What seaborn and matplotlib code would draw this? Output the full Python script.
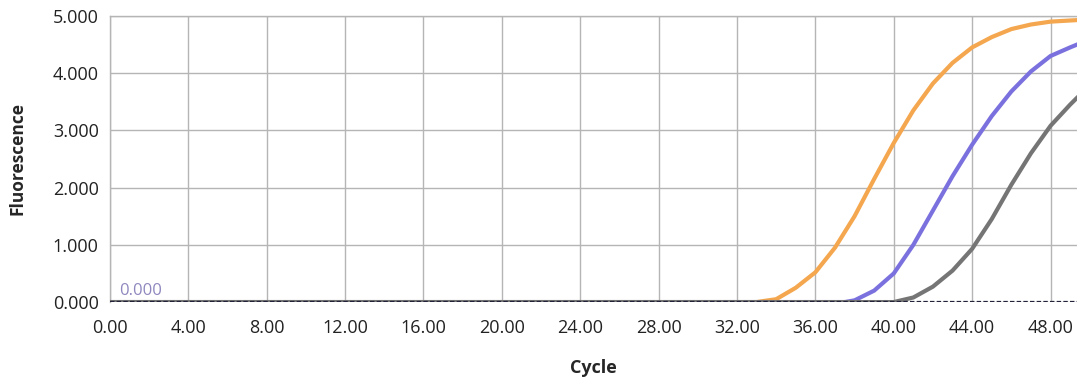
import pandas as pd
import numpy as np
import matplotlib
matplotlib.use('Agg')
import matplotlib.pyplot as plt
import seaborn as sns

# Amplification curves (cycle, fluorescence)
orange_cycle = [0, 33, 34, 35, 36, 37, 38, 39, 40, 41, 42, 43, 44, 45, 46, 47, 48, 49, 49.5]
orange_fluor = [0.0, 0.0, 0.05, 0.25, 0.52, 0.95, 1.5, 2.15, 2.78, 3.35, 3.82, 4.18, 4.45, 4.63, 4.77, 4.85, 4.9, 4.92, 4.93]

purple_cycle = [0, 37.5, 38, 39, 40, 41, 42, 43, 44, 45, 46, 47, 48, 49, 49.5]
purple_fluor = [0.0, 0.0, 0.03, 0.2, 0.5, 1.0, 1.6, 2.2, 2.75, 3.25, 3.68, 4.03, 4.3, 4.45, 4.52]

grey_cycle = [0, 40, 41, 42, 43, 44, 45, 46, 47, 48, 49, 49.5]
grey_fluor = [0.0, 0.0, 0.08, 0.27, 0.55, 0.93, 1.45, 2.05, 2.6, 3.08, 3.45, 3.62]

x_ticks = [0, 4, 8, 12, 16, 20, 24, 28, 32, 36, 40, 44, 48]
y_ticks = [0, 1, 2, 3, 4, 5]
threshold = 0.0

df = pd.concat([
    pd.DataFrame({'Cycle': orange_cycle, 'Fluorescence': orange_fluor, 'sample': 'A'}),
    pd.DataFrame({'Cycle': purple_cycle, 'Fluorescence': purple_fluor, 'sample': 'B'}),
    pd.DataFrame({'Cycle': grey_cycle, 'Fluorescence': grey_fluor, 'sample': 'C'}),
])
palette = {'A': '#F4A74E', 'B': '#7B71DE', 'C': '#757575'}

sns.set_style('white')
plt.rcParams['font.family'] = ['Open Sans', 'DejaVu Sans']

fig = plt.figure(figsize=(10.77, 3.79), dpi=100)
ax = fig.add_axes([0.102, 0.203, 0.898, 0.755])

sns.lineplot(data=df, x='Cycle', y='Fluorescence', hue='sample', palette=palette,
             linewidth=3.0, legend=False, ax=ax, zorder=3)

# threshold line
ax.axhline(threshold, color='#22223A', linestyle=(0, (2, 1)), linewidth=1.6, zorder=4)
ax.text(0.45, threshold + 0.05, '0.000', color='#8F88BF', fontsize=12, va='bottom')

ax.set_xlim(0, 49.35)
ax.set_ylim(0, 5.0)
ax.set_xticks(x_ticks)
ax.set_xticklabels([f'{v:.2f}' for v in x_ticks])
ax.set_yticks(y_ticks)
ax.set_yticklabels([f'{v:.3f}' for v in y_ticks])
ax.grid(True, color='#B5B5B5', linewidth=1.0)
ax.tick_params(axis='both', length=0, labelsize=13, colors='#222222')
ax.tick_params(axis='x', pad=12)
ax.tick_params(axis='y', pad=8)

for s in ['right', 'bottom']:
    ax.spines[s].set_visible(False)
for s in ['left', 'top']:
    ax.spines[s].set_color('#B5B5B5')
    ax.spines[s].set_linewidth(1.0)

ax.set_xlabel('Cycle', fontsize=13, fontweight='bold', labelpad=16)
ax.set_ylabel('Fluorescence', fontsize=12.5, fontweight='bold', labelpad=19)

fig.savefig('out.png', dpi=100)
